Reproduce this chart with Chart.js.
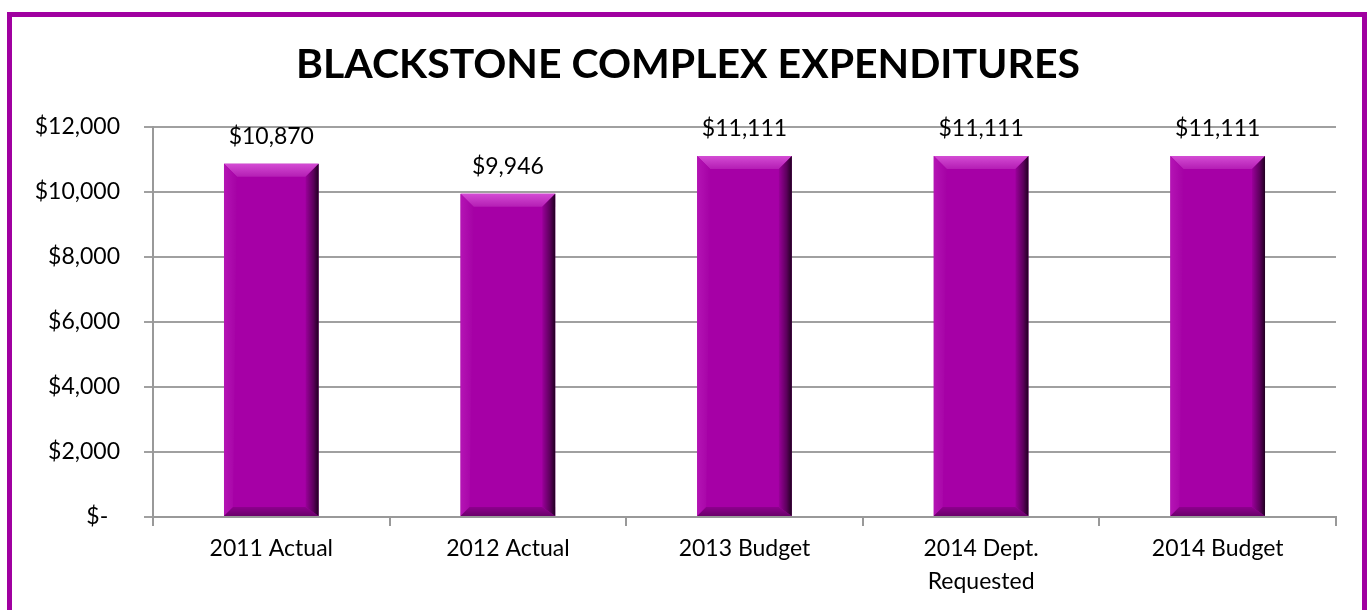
<!DOCTYPE html>
<html>
<head>
<meta charset="utf-8">
<script src="https://cdn.jsdelivr.net/npm/chart.js@4.4.1/dist/chart.umd.min.js"></script>
<style>
  html, body { margin: 0; padding: 0; background: #fff; overflow: hidden; }
  #frame {
    position: absolute; left: 7px; top: 12px;
    width: 1350px; height: 600px;
    border: 5px solid #a000a0; border-bottom: none;
    background: #fff;
  }
  #chart { display: block; }
</style>
</head>
<body>
<div id="frame"><canvas id="chart" width="1350" height="600"></canvas></div>
<script>
const chartTitle = 'BLACKSTONE COMPLEX EXPENDITURES';
const categories = ['2011 Actual', '2012 Actual', '2013 Budget', ['2014 Dept.', 'Requested'], '2014 Budget'];
const expenditures = [10870, 9946, 11111, 11111, 11111];
const yTicks = [0, 2000, 4000, 6000, 8000, 10000, 12000];

const FONT = 'Lato, "Open Sans", sans-serif';
const fmt = v => v === 0 ? '$-  ' : '$' + v.toLocaleString('en-US');

// title drawn centred over the canvas
const titlePlugin = {
  id: 'bigTitle',
  afterDraw(chart) {
    const ctx = chart.ctx;
    ctx.save();
    ctx.font = 'bold 41px ' + FONT;
    ctx.fillStyle = '#000';
    ctx.textAlign = 'center';
    ctx.textBaseline = 'middle';
    ctx.fillText(chartTitle, 676, 48);
    ctx.restore();
  }
};

// bevelled edges on each bar plus the value label above it
const bevelPlugin = {
  id: 'bevel',
  afterDatasetsDraw(chart) {
    const ctx = chart.ctx;
    const meta = chart.getDatasetMeta(0);
    meta.data.forEach((bar, i) => {
      const l = bar.x - bar.width / 2, r = bar.x + bar.width / 2;
      const t = bar.y, b = bar.base, s = 13, sb = 9;
      ctx.save();
      // top
      let g = ctx.createLinearGradient(0, t, 0, t + s);
      g.addColorStop(0, '#d44cd4'); g.addColorStop(1, '#b41eb4');
      ctx.fillStyle = g;
      ctx.beginPath(); ctx.moveTo(l, t); ctx.lineTo(r, t); ctx.lineTo(r - s, t + s); ctx.lineTo(l + s, t + s); ctx.closePath(); ctx.fill();
      // left
      g = ctx.createLinearGradient(l, 0, l + s, 0);
      g.addColorStop(0, '#b414b4'); g.addColorStop(1, '#a502a5');
      ctx.fillStyle = g;
      ctx.beginPath(); ctx.moveTo(l, t); ctx.lineTo(l + s, t + s); ctx.lineTo(l + sb, b - sb); ctx.lineTo(l, b); ctx.closePath(); ctx.fill();
      // bottom
      g = ctx.createLinearGradient(0, b - sb, 0, b);
      g.addColorStop(0, '#8e008e'); g.addColorStop(1, '#6a006a');
      ctx.fillStyle = g;
      ctx.beginPath(); ctx.moveTo(l, b); ctx.lineTo(l + sb, b - sb); ctx.lineTo(r - s, b - sb); ctx.lineTo(r, b); ctx.closePath(); ctx.fill();
      // right
      g = ctx.createLinearGradient(r - s, 0, r, 0);
      g.addColorStop(0, '#9a009a'); g.addColorStop(0.6, '#5c005c'); g.addColorStop(1, '#200020');
      ctx.fillStyle = g;
      ctx.beginPath(); ctx.moveTo(r, t); ctx.lineTo(r, b); ctx.lineTo(r - s, b - sb); ctx.lineTo(r - s, t + s); ctx.closePath(); ctx.fill();

      ctx.font = '23px ' + FONT;
      ctx.fillStyle = '#000';
      ctx.textAlign = 'center';
      ctx.textBaseline = 'middle';
      ctx.fillText(fmt(expenditures[i]), bar.x, t - 27);
      ctx.restore();
    });
  }
};

new Chart(document.getElementById('chart'), {
  type: 'bar',
  data: {
    labels: categories,
    datasets: [{
      data: expenditures,
      backgroundColor: '#a600a6',
      borderWidth: 0,
      barPercentage: 0.4,
      categoryPercentage: 1
    }]
  },
  options: {
    responsive: false,
    animation: false,
    layout: { padding: { left: 0, right: 26, top: 110, bottom: 0 } },
    plugins: { legend: { display: false }, tooltip: { enabled: false }, title: { display: false } },
    scales: {
      x: {
        offset: true,
        grid: { display: true, drawOnChartArea: false, offset: true, color: '#999', lineWidth: 2, tickLength: 9 },
        border: { color: '#999', width: 2 },
        ticks: { color: '#000', font: { family: FONT, size: 23, lineHeight: 1.43 }, padding: 6, maxRotation: 0 },
        afterFit(scale) { scale.height = 100; }
      },
      y: {
        min: 0, max: 12000,
        afterBuildTicks(scale) { scale.ticks = yTicks.map(v => ({ value: v })); },
        grid: { color: '#a0a0a0', lineWidth: 2, tickLength: 9 },
        border: { color: '#999', width: 2 },
        ticks: { color: '#000', font: { family: FONT, size: 23 }, padding: 24, callback: v => fmt(v) },
        afterFit(scale) { scale.width = 141; }
      }
    }
  },
  plugins: [titlePlugin, bevelPlugin]
});
</script>
</body>
</html>
